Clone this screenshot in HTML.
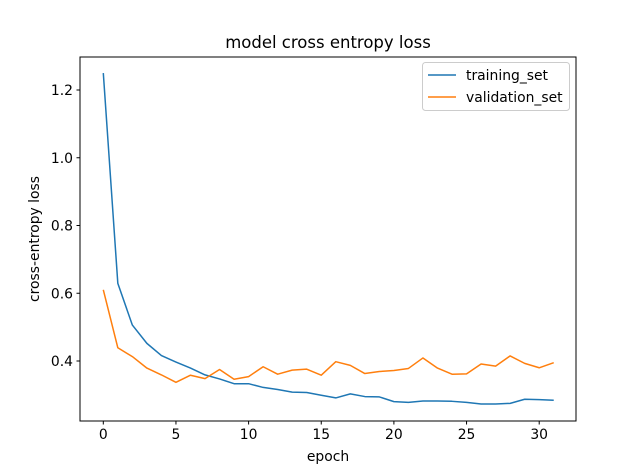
<!DOCTYPE html>
<html><head><meta charset="utf-8"><style>
body{margin:0;background:#fff;}
svg{display:block;font-family:"DejaVu Sans","Liberation Sans",sans-serif;}
</style></head><body>
<svg id="chart" width="640" height="473" viewBox="0 0 640 473">
<rect width="640" height="473" fill="#fff"/>
<text x="328" y="48" font-size="16.5" text-anchor="middle">model cross entropy loss</text>
<g id="lines"></g>
<rect x="80" y="57" width="496" height="364" fill="none" stroke="#000" stroke-width="1"/>
<g id="ticks" font-size="13.9"></g>
<text x="328" y="461" font-size="13.9" text-anchor="middle">epoch</text>
<text transform="translate(39,239) rotate(-90)" font-size="13.9" text-anchor="middle">cross-entropy loss</text>
<g>
<rect x="422.5" y="62.5" width="147" height="48" rx="3" fill="#fff" fill-opacity="0.8" stroke="#ccc"/>
<line x1="428" y1="75" x2="456" y2="75" stroke="#1f77b4" stroke-width="1.5"/>
<text x="466" y="80" font-size="13.9">training_set</text>
<line x1="428" y1="97" x2="456" y2="97" stroke="#ff7f0e" stroke-width="1.5"/>
<text x="466" y="102" font-size="13.9">validation_set</text>
</g>
</svg>
<script>
const training = [1.25,0.629,0.506,0.452,0.416,0.397,0.379,0.359,0.347,0.333,0.333,0.322,0.316,0.308,0.307,0.299,0.291,0.303,0.295,0.294,0.280,0.278,0.282,0.282,0.281,0.278,0.273,0.273,0.275,0.287,0.286,0.284];
const validation = [0.610,0.439,0.413,0.379,0.359,0.337,0.358,0.348,0.375,0.346,0.354,0.383,0.361,0.373,0.376,0.358,0.398,0.387,0.363,0.369,0.372,0.378,0.409,0.379,0.361,0.362,0.391,0.385,0.415,0.393,0.380,0.395];
const xTicks = [0,5,10,15,20,25,30];
const yTicks = [0.4,0.6,0.8,1.0,1.2];
const yTickLabels = ["0.4","0.6","0.8","1.0","1.2"];
const NS="http://www.w3.org/2000/svg";
function xs(e){return 103.3+e*14.53;}
function ys(v){return 361-(v-0.4)*338.75;}
const lines=document.getElementById('lines'), ticks=document.getElementById('ticks');
function mk(t,a,p){const el=document.createElementNS(NS,t);for(const k in a)el.setAttribute(k,a[k]);p.appendChild(el);return el;}
[[training,'#1f77b4','training-line'],[validation,'#ff7f0e','validation-line']].forEach(([d,c,n])=>{
  const el=mk('polyline',{points:d.map((v,i)=>xs(i)+','+ys(v)).join(' '),fill:'none',stroke:c,'stroke-width':1.5,'stroke-linejoin':'round'},lines);
  
  
});
xTicks.forEach(t=>{
  const l=mk('line',{x1:xs(t),x2:xs(t),y1:421,y2:424.5,stroke:'#000'},ticks);
  
  
  const tx=mk('text',{x:xs(t),y:439,'text-anchor':'middle'},ticks);tx.textContent=t;
  
  
});
yTicks.forEach((t,i)=>{
  const l=mk('line',{x1:76.5,x2:80,y1:ys(t),y2:ys(t),stroke:'#000'},ticks);
  
  
  const tx=mk('text',{x:73,y:ys(t)+5,'text-anchor':'end'},ticks);tx.textContent=yTickLabels[i];
  
  
});
</script>
</body></html>
